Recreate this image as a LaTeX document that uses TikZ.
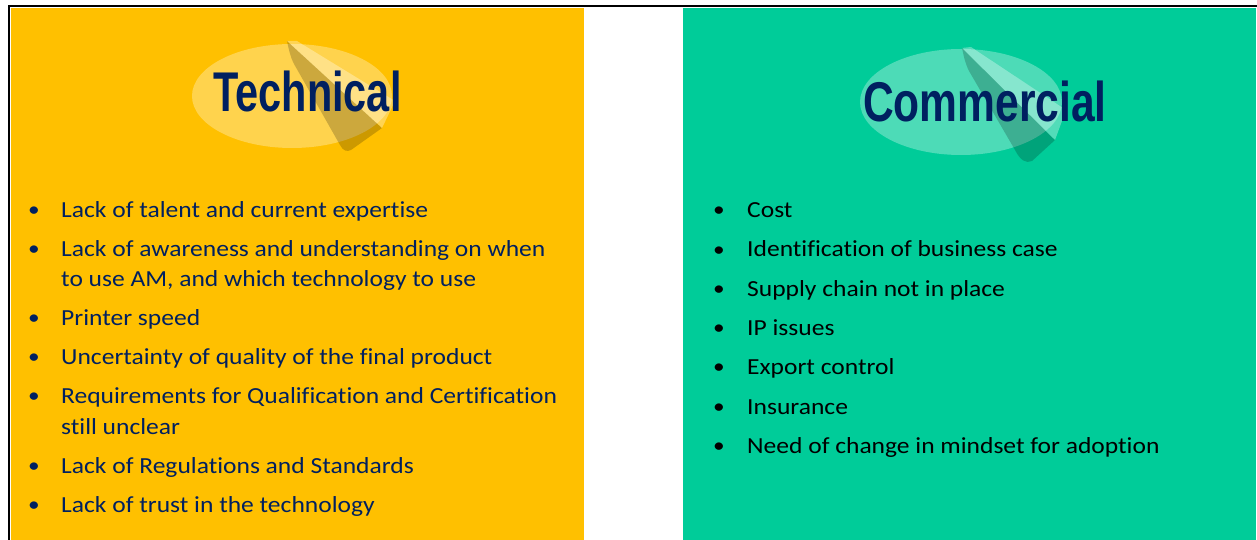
\documentclass[tikz,border=0pt]{standalone}
\usepackage{fontspec}
\setmainfont{Carlito}[FakeStretch=1.11, Ligatures={NoCommon}]
\newfontfamily\titlefont{Liberation Sans}
\definecolor{panelyellow}{HTML}{FFC000}
\definecolor{panelgreen}{HTML}{00CC99}
\definecolor{navy}{HTML}{002060}
\begin{document}
\begin{tikzpicture}[x=1pt,y=-1pt,
  halo/.style={fill=white, fill opacity=0.3, draw=none},
  shade/.style={fill=black, fill opacity=0.2, draw=none},
  gleam/.style={fill=white, fill opacity=0.32, draw=none},
  titletext/.style={anchor=base, inner sep=0, text=navy, font=\titlefont\bfseries\fontsize{56}{56}\selectfont},
  itemtext/.style={anchor=base west, inner sep=0, font=\fontsize{23}{27}\selectfont},
  dot/.style={anchor=base, inner sep=0, font=\fontsize{21}{25}\selectfont}]
\useasboundingbox (0,0) rectangle (1257,540);
\fill[white] (0,0) rectangle (1257,540);
% frame
\draw[black, line width=2pt] (9,540) -- (9,6) -- (1257,6);
% panels
\fill[panelyellow] (11,8) rectangle (584,540);
\fill[panelgreen] (683,8) rectangle (1256,540);
% halos
\fill[halo] (292,96) ellipse [x radius=100, y radius=52];
\fill[halo] (961,102) ellipse [x radius=101, y radius=53];
% curls technical
\fill[shade] (287,41) .. controls (289,50) and (290,56) .. (294,64) -- (340,145)
  .. controls (343,151) and (347,152) .. (351,150) -- (382,128) -- cycle;
\fill[gleam] (287,41) -- (297,41) -- (395,101) -- (382,128) -- cycle;
% curls commercial
\fill[shade] (962,48) .. controls (964,57) and (965,63) .. (969,71) -- (1015,150)
  .. controls (1020,160) and (1026,164) .. (1032,161) -- (1055,140) -- cycle;
\fill[gleam] (962,48) -- (971,47) -- (1066,110) -- (1055,140) -- cycle;
% titles
\node[titletext] (ttech) at (307.5,112) {\scalebox{0.74}[1]{Technical}};
\node[titletext] (tcomm) at (985,122) {\scalebox{0.76}[1]{Commercial}};
% technical items
\begin{scope}[every node/.append style={text=navy}]
\node[dot] (b1) at (34,216) {•};
\node[itemtext] (i1) at (61,217) {Lack of talent and current expertise};
\node[dot] (b2) at (34,255) {•};
\node[itemtext] (i2) at (61,256) {Lack of awareness and understanding on when};
\node[itemtext] (i2b) at (61,286) {to use AM, and which technology to use};
\node[dot] (b3) at (34,324.5) {•};
\node[itemtext] (i3) at (61,325.5) {Printer speed};
\node[dot] (b4) at (34,363.5) {•};
\node[itemtext] (i4) at (61,364.5) {Uncertainty of quality of the final product};
\node[dot] (b5) at (34,402.5) {•};
\node[itemtext] (i5) at (61,403.5) {Requirements for Qualification and Certification};
\node[itemtext] (i5b) at (61,434) {still unclear};
\node[dot] (b6) at (34,472.5) {•};
\node[itemtext] (i6) at (61,473.5) {Lack of Regulations and Standards};
\node[dot] (b7) at (34,511.5) {•};
\node[itemtext] (i7) at (61,512.5) {Lack of trust in the technology};
\end{scope}
% commercial items
\begin{scope}[every node/.append style={text=black}]
\node[dot] (c1) at (719,216.7) {•};
\node[itemtext] (j1) at (747,217.5) {Cost};
\node[dot] (c2) at (719,256) {•};
\node[itemtext] (j2) at (747,256.8) {Identification of business case};
\node[dot] (c3) at (719,295.3) {•};
\node[itemtext] (j3) at (747,296.1) {Supply chain not in place};
\node[dot] (c4) at (719,334.6) {•};
\node[itemtext] (j4) at (747,335.4) {IP issues};
\node[dot] (c5) at (719,373.9) {•};
\node[itemtext] (j5) at (747,374.7) {Export control};
\node[dot] (c6) at (719,413.2) {•};
\node[itemtext] (j6) at (747,414) {Insurance};
\node[dot] (c7) at (719,452.5) {•};
\node[itemtext] (j7) at (747,453.3) {Need of change in mindset for adoption};
\end{scope}
\end{tikzpicture}
\end{document}
